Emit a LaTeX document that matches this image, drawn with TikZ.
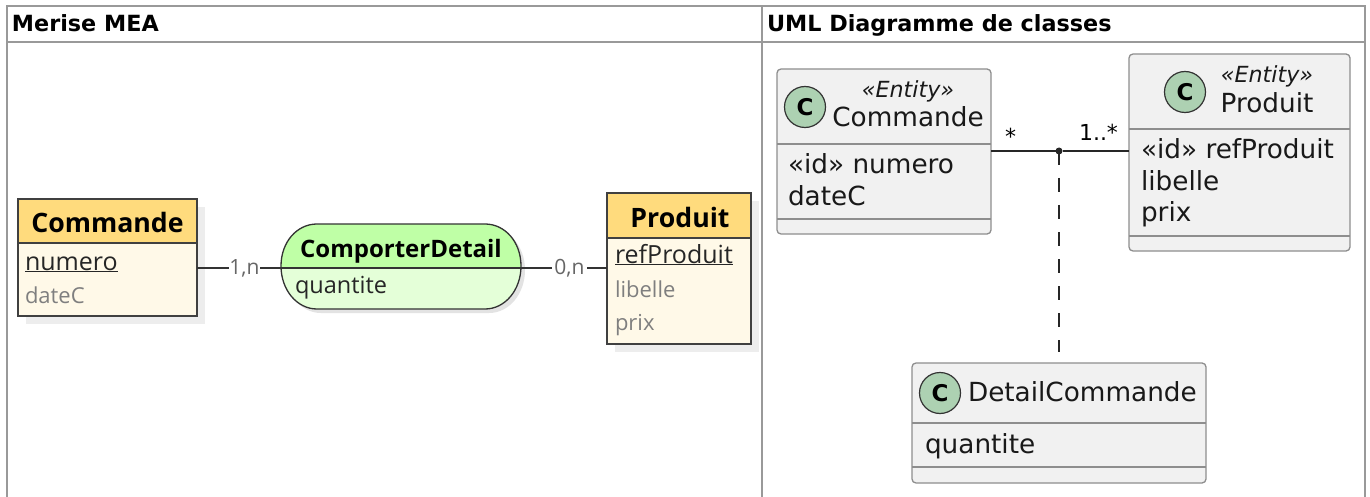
\documentclass[tikz,border=0pt]{standalone}
\usepackage{fontspec}
\setmainfont{DejaVu Sans}
\newfontfamily\merfont{Open Sans}
\usetikzlibrary{calc}
\definecolor{tableline}{HTML}{999999}
\definecolor{umlfill}{HTML}{F1F1F1}
\definecolor{umlline}{HTML}{8E8E8E}
\definecolor{circfill}{HTML}{ADD1B2}
\definecolor{enthead}{HTML}{FFDB7D}
\definecolor{entbody}{HTML}{FFF9E8}
\definecolor{assochead}{HTML}{BFFFA6}
\definecolor{assocbody}{HTML}{E4FFD8}
\definecolor{shadowc}{HTML}{EDEDED}
\definecolor{mergray}{HTML}{7F7F7F}
\tikzset{
  x=1pt,y=-1pt,
  every node/.style={inner sep=0pt,outer sep=0pt},
  tabline/.style={draw=tableline,line width=2pt},
  headtext/.style={anchor=base west,font=\fontsize{22.3}{24}\selectfont\bfseries,text=black},
  merbox/.style={draw=black!75,line width=1.3pt,anchor=north west},
  mershadow/.style={fill=shadowc,draw=none},
  mertitle/.style={anchor=base,font=\merfont\fontsize{26.7}{28}\selectfont\bfseries,text=black},
  mertitlesm/.style={anchor=base,font=\merfont\fontsize{24}{26}\selectfont\bfseries,text=black},
  meratt/.style={anchor=base west,font=\merfont\fontsize{23.5}{26}\selectfont,text=black!85},
  merkey/.style={anchor=base west,font=\merfont\fontsize{25}{26}\selectfont,text=black!85},
  merattg/.style={anchor=base west,font=\merfont\fontsize{22}{26}\selectfont,text=mergray},
  card/.style={font=\merfont\fontsize{21}{22}\selectfont,text=black!60,minimum width=#1,minimum height=20pt},
  merline/.style={draw=black!80,line width=1.3pt},
  umlbox/.style={draw=umlline,fill=umlfill,line width=1.3pt,rounded corners=4pt,anchor=north west},
  umlsep/.style={draw=umlline,line width=1.3pt},
  circ/.style={circle,draw=black!80,fill=circfill,line width=1.2pt,minimum size=41pt,font=\fontsize{23}{23}\selectfont\bfseries,text=black},
  umlname/.style={anchor=base,font=\fontsize{26.3}{30}\selectfont,text=black!90},
  umlattr/.style={anchor=base west,font=\fontsize{26.3}{30}\selectfont,text=black!90},
  stereo/.style={anchor=base,font=\fontsize{22.2}{24}\selectfont\itshape,text=black!90},
  umlcard/.style={anchor=base west,font=\fontsize{22}{24}\selectfont,text=black},
  umlline/.style={draw=black!85,line width=1.3pt},
}
\begin{document}
\begin{tikzpicture}
\useasboundingbox (0,0) rectangle (1370,497);
\fill[white] (0,0) rectangle (1370,497);
% table
\draw[tabline] (7,497) -- (7,6) -- (1365,6) -- (1365,497);
\draw[tabline] (7,42) -- (1365,42);
\draw[tabline] (762,6) -- (762,497);
\node[headtext] (h1) at (12,32) {Merise MEA};
\node[headtext] (h2) at (767,32) {UML Diagramme de classes};
% Merise: Commande
\fill[mershadow] (26,207) rectangle (205,324);
\node[merbox,fill=entbody,minimum width=179pt,minimum height=117pt] (mc) at (18,199) {};
\fill[enthead] (18,199) rectangle (197,243);
\draw[merbox] (18,199) rectangle (197,316);
\draw[merbox] (18,243) -- (197,243);
\node[mertitle] (mct) at (107.5,232) {Commande};
\node[merkey] (mca) at (25,270) {\underline{numero}};
\node[merattg] (mcb) at (25,303) {dateC};
% Merise: Produit
\fill[mershadow] (615,201) rectangle (759,352);
\node[merbox,fill=entbody,minimum width=144pt,minimum height=151pt] (mp) at (607,193) {};
\fill[enthead] (607,193) rectangle (751,238);
\draw[merbox] (607,193) rectangle (751,344);
\draw[merbox] (607,238) -- (751,238);
\node[mertitle] (mpt) at (680,227) {Produit};
\node[merkey] (mpa) at (615,263) {\underline{refProduit}};
\node[merattg] (mpb) at (615,297) {libelle};
\node[merattg] (mpc) at (615,330) {prix};
% Merise: association
\fill[black!11] (285,270) .. controls (285,246) and (301,228) .. (321,228) -- (489,228) .. controls (509,228) and (525,246) .. (525,270) .. controls (525,294) and (509,313) .. (489,313) -- (321,313) .. controls (301,313) and (285,294) .. (285,270) -- cycle;
\node[minimum width=240pt,minimum height=85pt,anchor=north west] (as) at (281,224) {};
\fill[assocbody] (281,266) .. controls (281,290) and (297,309) .. (317,309) -- (485,309) .. controls (505,309) and (521,290) .. (521,266) -- cycle;
\fill[assochead] (281,268) .. controls (281,242) and (297,224) .. (317,224) -- (485,224) .. controls (505,224) and (521,242) .. (521,268) -- cycle;
\draw[merline] (281,266) .. controls (281,242) and (297,224) .. (317,224) -- (485,224) .. controls (505,224) and (521,242) .. (521,266) .. controls (521,290) and (505,309) .. (485,309) -- (317,309) .. controls (297,309) and (281,290) .. (281,266) -- cycle;
\draw[merline] (281,268) -- (521,268);
\node[mertitlesm] (ast) at (401,257) {ComporterDetail};
\node[meratt] (asa) at (295,293) {quantite};
% Merise: connectors
\node[card=31pt] (c1) at (244.5,268) {1,n};
\node[card=35pt] (c2) at (569.5,268) {0,n};
\draw[merline] (mc.east |- c1) -- (c1);
\draw[merline] (c1) -- (as.west |- c1);
\draw[merline] (as.east |- c2) -- (c2);
\draw[merline] (c2) -- (mp.west |- c2);
% UML: Commande
\node[umlbox,minimum width=214pt,minimum height=165pt] (uc) at (777,69) {};
\draw[umlsep] (777,144) -- (991,144);
\draw[umlsep] (777,219) -- (991,219);
\node[circ] (ucc) at (805,107) {C};
\node[stereo] (ucs) at (908,98) {«Entity»};
\node[umlname] (ucn) at (908,127) {Commande};
\node[umlattr] (uca) at (788,174) {«id» numero};
\node[umlattr] (ucb) at (788,206) {dateC};
% UML: Produit
\node[umlbox,minimum width=221pt,minimum height=197pt] (up) at (1129,54) {};
\draw[umlsep] (1129,129) -- (1350,129);
\draw[umlsep] (1129,236) -- (1350,236);
\node[circ] (upc) at (1185,92) {C};
\node[stereo] (ups) at (1267,83) {«Entity»};
\node[umlname] (upn) at (1267,113) {Produit};
\node[umlattr] (upa) at (1141,159) {«id» refProduit};
\node[umlattr] (upb) at (1141,191) {libelle};
\node[umlattr] (upd) at (1141,222) {prix};
% UML: DetailCommande
\node[umlbox,minimum width=294pt,minimum height=120pt] (ud) at (912,363) {};
\draw[umlsep] (912,423) -- (1206,423);
\draw[umlsep] (912,467) -- (1206,467);
\node[circ] (udc) at (940,393) {C};
\node[umlattr] (udn) at (968,401) {DetailCommande};
\node[umlattr] (uda) at (925,453) {quantite};
% UML: connectors
\node[circle,fill=black!85,minimum size=7pt] (dot) at (1059,151) {};
\draw[umlline] (uc.east |- dot) -- (dot);
\draw[umlline] (dot) -- (up.west |- dot);
\draw[draw=black!85,line width=1.3pt,dash pattern=on 14pt off 13pt,shorten >=11pt] (dot.center) -- (dot |- ud.north);
\node[umlcard] (l1) at (1005,145) {*};
\node[umlcard] (l2) at (1079,141) {1..*};
\end{tikzpicture}
\end{document}
